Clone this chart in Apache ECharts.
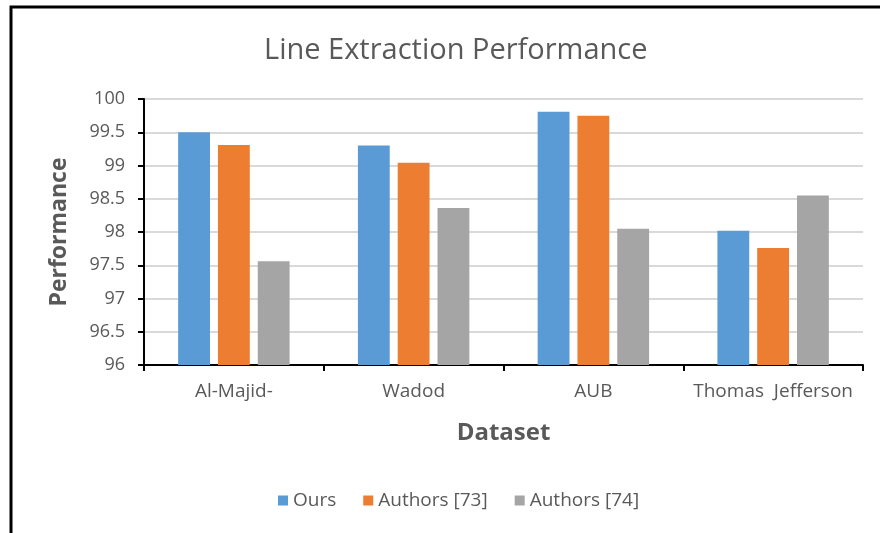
<!DOCTYPE html>
<html><head><meta charset="utf-8">
<script src="https://cdn.jsdelivr.net/npm/echarts@6/dist/echarts.min.js"></script>
<style>html,body{margin:0;padding:0;background:#fff}#c{width:880px;height:533px}</style>
</head><body><div id="c"></div>
<script>
const categories = ['Al-Majid-', 'Wadod', 'AUB', 'Thomas  Jefferson'];
const ours = [99.5, 99.3, 99.81, 98.02];
const authors73 = [99.31, 99.04, 99.75, 97.76];
const authors74 = [97.56, 98.36, 98.05, 98.55];
const seriesNames = ['Ours', 'Authors [73]', 'Authors [74]'];
const colors = ['#5b9bd5', '#ed7d31', '#a5a5a5'];
const FONT = 'Open Sans';
const chart = echarts.init(document.getElementById('c'));
const txt = '#595959';
chart.setOption({
  animation: false,
  textStyle: {fontFamily: FONT},
  title: {text: 'Line Extraction Performance', left: 259, top: 31,
    textStyle: {fontFamily: FONT, fontSize: 29, fontWeight: 'normal', color: txt}},
  legend: {bottom: 18, left: 273, itemWidth: 10, itemHeight: 10, itemGap: 27,
    icon: 'rect', textStyle: {fontFamily: FONT, fontSize: 19, color: txt}},
  grid: {left: 144, right: 17, top: 99, bottom: 168},
  graphic: [{type: 'polyline', shape: {points: [[11, 533], [11, 7], [880, 7]]},
    style: {stroke: '#000', lineWidth: 3, fill: null}}],
  xAxis: {type: 'category', data: categories, name: 'Dataset', nameLocation: 'middle', nameGap: 56,
    nameTextStyle: {fontFamily: FONT, fontSize: 24, fontWeight: 'bold', color: txt},
    axisLine: {lineStyle: {color: '#000', width: 2}},
    axisTick: {show: true, interval: 0, length: 6, lineStyle: {color: '#000', width: 2}},
    axisLabel: {interval: 0, fontFamily: FONT, fontSize: 19, color: txt, margin: 17}},
  yAxis: {type: 'value', min: 96, max: 100, interval: 0.5, name: 'Performance', nameLocation: 'middle', nameGap: 73,
    nameTextStyle: {fontFamily: FONT, fontSize: 23, fontWeight: 'bold', color: txt},
    axisLine: {show: true, lineStyle: {color: '#000', width: 2}},
    axisTick: {show: true, length: 6, lineStyle: {color: '#000', width: 2}},
    splitLine: {lineStyle: {color: '#d9d9d9', width: 2}},
    axisLabel: {fontFamily: FONT, fontSize: 18, color: txt, margin: 19}},
  series: [ours, authors73, authors74].map((d, i) => ({
    name: seriesNames[i], type: 'bar', data: d, barGap: '25%', barCategoryGap: '38%',
    itemStyle: {color: colors[i]}
  }))
});
</script></body></html>
